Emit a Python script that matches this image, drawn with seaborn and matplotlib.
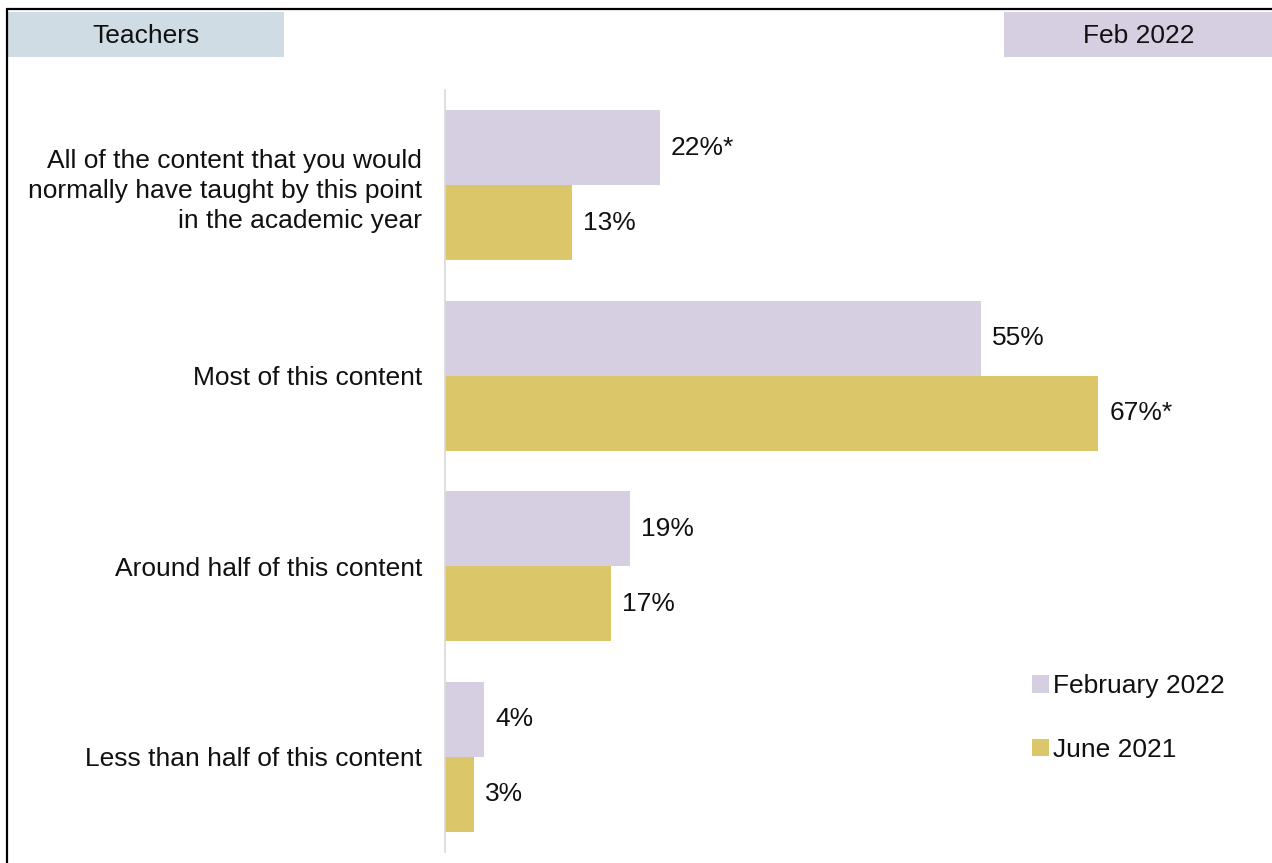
import pandas as pd
import matplotlib.pyplot as plt
import seaborn as sns
from matplotlib.patches import Rectangle
from matplotlib.lines import Line2D

# Data
categories = [
    "All of the content that you would\nnormally have taught by this point\nin the academic year",
    "Most of this content",
    "Around half of this content",
    "Less than half of this content",
]
waves = ["February 2022", "June 2021"]
feb_2022 = [22, 55, 19, 4]
jun_2021 = [13, 67, 17, 3]
feb_labels = ["22%*", "55%", "19%", "4%"]
jun_labels = ["13%", "67%*", "17%", "3%"]

colors = ["#D5CFE1", "#DBC76A"]

df = pd.DataFrame({
    "category": categories * 2,
    "wave": [waves[0]] * 4 + [waves[1]] * 4,
    "value": feb_2022 + jun_2021,
})

sns.set_style("white")
plt.rcParams["font.family"] = ["Liberation Sans", "DejaVu Sans"]
FS = 19

fig = plt.figure(figsize=(12.72, 8.63), dpi=100)
ax = fig.add_axes([445 / 1272, 1 - 852 / 863, 785 / 1272, 762 / 863])

sns.barplot(data=df, y="category", x="value", hue="wave", hue_order=waves,
            order=categories, palette=colors, orient="h", width=0.79,
            saturation=1, linewidth=0, edgecolor="none", ax=ax)

for cont, labs in zip(ax.containers, [feb_labels, jun_labels]):
    ax.bar_label(cont, labels=labs, padding=8, fontsize=FS, color="#111111")

ax.set_xlim(0, 785 / 9.75)
ax.set_ylim(3.5, -0.5)
ax.set_xlabel("")
ax.set_ylabel("")
ax.set_xticks([])
ax.tick_params(axis="y", length=0, pad=16.5, labelsize=FS, labelcolor="#111111")
for lab in ax.get_yticklabels():
    lab.set_horizontalalignment("right")
    lab.set_multialignment("right")
    lab.set_linespacing(1.33)
for s in ["top", "right", "bottom"]:
    ax.spines[s].set_visible(False)
ax.spines["left"].set_color("#D9D9D9")
ax.spines["left"].set_linewidth(1.2)

handles, labels = ax.get_legend_handles_labels()
ax.legend(handles, labels, loc="upper left", bbox_to_anchor=(1019 / 1272, 1 - 661 / 863),
          bbox_transform=fig.transFigure, frameon=False, fontsize=FS,
          handlelength=0.65, handleheight=0.65, handletextpad=0.15,
          labelspacing=1.5, borderpad=0, labelcolor="#111111")

# Header boxes
fig.add_artist(Rectangle((8 / 1272, 1 - 57 / 863), 276 / 1272, 45 / 863,
                         transform=fig.transFigure, color="#CFDCE3", lw=0))
fig.text(146 / 1272, 1 - 36 / 863, "Teachers", ha="center", va="center",
         fontsize=FS, color="#111111")
fig.add_artist(Rectangle((1004 / 1272, 1 - 57 / 863), 268 / 1272, 45 / 863,
                         transform=fig.transFigure, color="#D5CFE1", lw=0))
fig.text(1139 / 1272, 1 - 36 / 863, "Feb 2022", ha="center", va="center",
         fontsize=FS, color="#111111")

# Outer frame lines (top and left)
fig.add_artist(Line2D([7 / 1272, 1], [1 - 9 / 863, 1 - 9 / 863],
                      transform=fig.transFigure, color="black", lw=1.6))
fig.add_artist(Line2D([7 / 1272, 7 / 1272], [0, 1 - 9 / 863],
                      transform=fig.transFigure, color="black", lw=1.6))

fig.savefig("out.png", dpi=100)
